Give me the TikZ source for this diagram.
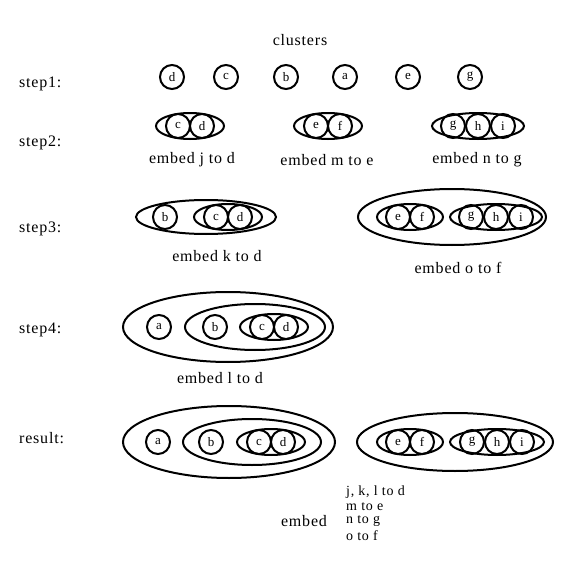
\documentclass[tikz,border=0pt]{standalone}
\usepackage{fontspec}
\setmainfont{Liberation Serif}
\newfontfamily\capfont[LetterSpace=5]{Liberation Serif}
\newfontfamily\leaffont{Liberation Serif}
\usetikzlibrary{shapes.geometric}
\tikzset{
  leaf/.style={circle, draw, line width=2pt, minimum size=24pt, inner sep=0pt,
    font=\leaffont\fontsize{13}{13}\selectfont},
  grp/.style={ellipse, draw, line width=2pt, inner sep=0pt},
  pair/.style={grp, minimum width=68pt, minimum height=26pt},
  triple/.style={grp, minimum width=92pt, minimum height=26pt},
  captxt/.style={font=\capfont\fontsize{16}{18}\selectfont, inner sep=0pt},
  steplabel/.style={captxt, anchor=west},
  listtxt/.style={font=\capfont\fontsize{14}{15}\selectfont, inner sep=0pt, anchor=west}
}
\begin{document}
\begin{tikzpicture}[x=1pt, y=-1pt]
\useasboundingbox (0,0) rectangle (566,562);

\node[captxt] (title) at (300,40) {clusters};

% row labels
\node[steplabel] (l1) at (19,84) {step1:};
\node[steplabel] (l2) at (19,143) {step2:};
\node[steplabel] (l3) at (19,229) {step3:};
\node[steplabel] (l4) at (19,330) {step4:};
\node[steplabel] (l5) at (19,438) {result:};

% step 1: single vertices
\node[leaf] (s1d) at (172,77) {d};
\node[leaf] (s1c) at (226,77) {c};
\node[leaf] (s1b) at (286,77) {b};
\node[leaf] (s1a) at (345,77) {a};
\node[leaf] (s1e) at (408,77) {e};
\node[leaf] (s1g) at (470,77) {g};

% step 2: first merges
\node[pair] (s2cd) at (190,126) {};
\node[leaf] (s2c) at (178,126) {c};
\node[leaf] (s2d) at (202,126) {d};
\node[pair] (s2ef) at (328,126) {};
\node[leaf] (s2e) at (316,126) {e};
\node[leaf] (s2f) at (340,126) {f};
\node[triple] (s2ghi) at (478,126) {};
\node[leaf] (s2g) at (453,126) {g};
\node[leaf] (s2h) at (478,126) {h};
\node[leaf] (s2i) at (503,126) {i};
\node[captxt] (t2a) at (192,160) {embed j to d};
\node[captxt] (t2b) at (327,160) {embed m to e};
\node[captxt] (t2c) at (477,160) {embed n to g};

% step 3
\node[grp, minimum width=140pt, minimum height=34pt] (s3bcd) at (206,217) {};
\node[leaf] (s3b) at (165,217) {b};
\node[pair] (s3cd) at (228,217) {};
\node[leaf] (s3c) at (216,217) {c};
\node[leaf] (s3d) at (240,217) {d};
\node[grp, minimum width=188pt, minimum height=56pt] (s3efghi) at (452,217) {};
\node[pair, minimum width=66pt] (s3ef) at (410,217) {};
\node[leaf] (s3e) at (398,217) {e};
\node[leaf] (s3f) at (422,217) {f};
\node[triple] (s3ghi) at (496,217) {};
\node[leaf] (s3g) at (471,217) {g};
\node[leaf] (s3h) at (496,217) {h};
\node[leaf] (s3i) at (521,217) {i};
\node[captxt] (t3a) at (217,256) {embed k to d};
\node[captxt] (t3b) at (458,268) {embed o to f};

% step 4
\node[grp, minimum width=210pt, minimum height=70pt] (s4all) at (228,327) {};
\node[leaf] (s4a) at (159,327) {a};
\node[grp, minimum width=140pt, minimum height=46pt] (s4bcd) at (255,327) {};
\node[leaf] (s4b) at (215,327) {b};
\node[pair] (s4cd) at (274,327) {};
\node[leaf] (s4c) at (262,327) {c};
\node[leaf] (s4d) at (286,327) {d};
\node[captxt] (t4) at (220,378) {embed l to d};

% result
\node[grp, minimum width=212pt, minimum height=72pt] (r1) at (229,442) {};
\node[leaf] (ra) at (158,442) {a};
\node[grp, minimum width=138pt, minimum height=46pt] (rbcd) at (252,442) {};
\node[leaf] (rb) at (211,442) {b};
\node[pair] (rcd) at (271,442) {};
\node[leaf] (rc) at (259,442) {c};
\node[leaf] (rd) at (283,442) {d};
\node[grp, minimum width=196pt, minimum height=58pt] (r2) at (455,442) {};
\node[pair, minimum width=66pt] (ref) at (410,442) {};
\node[leaf] (re) at (398,442) {e};
\node[leaf] (rf) at (422,442) {f};
\node[triple, minimum width=94pt] (rghi) at (497,442) {};
\node[leaf] (rg) at (472,442) {g};
\node[leaf] (rh) at (497,442) {h};
\node[leaf] (ri) at (522,442) {i};

\node[captxt] (temb) at (304,521) {embed};
\node[listtxt] (tl1) at (346,492) {j, k, l to d};
\node[listtxt] (tl2) at (346,507) {m to e};
\node[listtxt] (tl3) at (346,521) {n to g};
\node[listtxt] (tl4) at (346,536) {o to f};
\end{tikzpicture}
\end{document}
